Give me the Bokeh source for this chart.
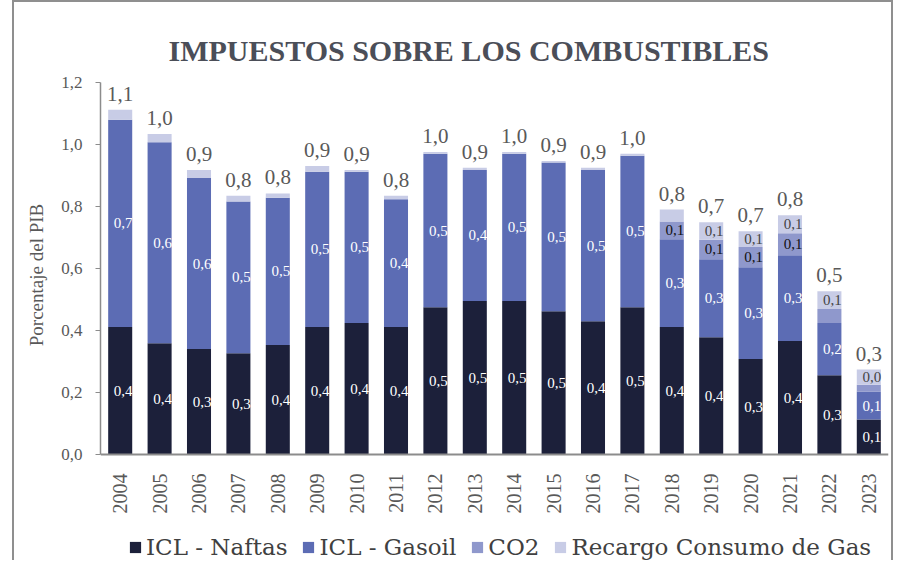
import math
from bokeh.plotting import figure
from bokeh.models import (ColumnDataSource, FactorRange, Range1d, FixedTicker,
                          LabelSet, Legend, LegendItem)
from bokeh.embed import file_html
from bokeh.resources import INLINE

# ---------------- data ----------------
years = ["2004", "2005", "2006", "2007", "2008", "2009", "2010", "2011", "2012", "2013",
         "2014", "2015", "2016", "2017", "2018", "2019", "2020", "2021", "2022", "2023"]
naftas = [0.411, 0.359, 0.340, 0.327, 0.353, 0.411, 0.424, 0.411, 0.475, 0.495,
          0.495, 0.462, 0.430, 0.475, 0.411, 0.378, 0.308, 0.366, 0.256, 0.113]
gasoil = [0.669, 0.648, 0.552, 0.489, 0.475, 0.501, 0.488, 0.412, 0.495, 0.423,
          0.475, 0.480, 0.488, 0.489, 0.283, 0.252, 0.296, 0.277, 0.168, 0.090]
co2 = [0.0, 0.0, 0.0, 0.0, 0.0, 0.0, 0.0, 0.0, 0.0, 0.0,
       0.0, 0.0, 0.0, 0.0, 0.058, 0.063, 0.065, 0.071, 0.045, 0.022]
recargo = [0.032, 0.027, 0.026, 0.019, 0.014, 0.019, 0.006, 0.012, 0.006, 0.007,
           0.006, 0.005, 0.007, 0.006, 0.038, 0.056, 0.051, 0.058, 0.058, 0.049]
show_naftas = [True] * 20
show_gasoil = [True] * 20
show_co2 = [False] * 14 + [True, True, True, True, False, False]
show_recargo = [False] * 15 + [True] * 5

series_keys = ["naftas", "gasoil", "co2", "recargo"]
series_names = ["ICL - Naftas", "ICL - Gasoil", "CO2", "Recargo Consumo de Gas"]
y_ticks = [0.0, 0.2, 0.4, 0.6, 0.8, 1.0, 1.2]
title_text = "IMPUESTOS SOBRE LOS COMBUSTIBLES"
y_label = "Porcentaje del PIB"

# ---------------- style / layout ----------------
FONT = "Liberation Serif"
LEGEND_FONT = "DejaVu Serif"
colors = ["#1c203a", "#5c6cb4", "#8f98cc", "#c8cce6"]
label_colors = ["#ffffff", "#ffffff", "#111111", "#444444"]
GRAY_TEXT = "#595959"
AXIS_GRAY = "#8c8c8c"

HEIGHT = 560
TOP = 80                    # space above the plotting frame (title)
AXIS_PX = 372               # pixels from value 0 to value 1.2
Y_MAX = 1.2
frame_h = HEIGHT - TOP      # frame reaches the bottom; x axis is pinned at y=0
y_min = Y_MAX - Y_MAX * frame_h / AXIS_PX
YLABEL_PAD = "\u00a0" * 20  # lifts the axis title towards the middle of the 0-1.2 scale


def fmt(v):
    return ("%.1f" % v).replace(".", ",")


values = {"naftas": naftas, "gasoil": gasoil, "co2": co2, "recargo": recargo}
shows = {"naftas": show_naftas, "gasoil": show_gasoil, "co2": show_co2, "recargo": show_recargo}

src = ColumnDataSource(dict(years=years, **values))

p = figure(x_range=FactorRange(*years, range_padding=0), y_range=Range1d(y_min, Y_MAX),
           width=881, height=HEIGHT, output_backend="svg", toolbar_location=None,
           min_border_left=86, min_border_right=7, min_border_top=TOP, min_border_bottom=0)
p.styles = {"border-left": "2px solid #8f8f8f", "border-top": "2px solid #8f8f8f",
            "border-right": "2px solid #8f8f8f", "margin-left": "12px"}
p.outline_line_color = None
p.xgrid.grid_line_color = None
p.ygrid.grid_line_color = None

renderers = p.vbar_stack(series_keys, x="years", width=0.61, color=colors,
                         line_color=None, source=src)

# segment labels
bottom = [0.0] * len(years)
for k, key in enumerate(series_keys):
    xs, ys, ts = [], [], []
    for j, y in enumerate(years):
        v = values[key][j]
        if shows[key][j]:
            xs.append(y)
            ys.append(bottom[j] + v / 2)
            ts.append(fmt(v))
        bottom[j] += v
    ls = LabelSet(x="x", y="y", text="t", source=ColumnDataSource(dict(x=xs, y=ys, t=ts)),
                  text_align="center", text_baseline="middle", x_offset=3,
                  text_color=label_colors[k], text_font_size="15px", text_font=FONT)
    p.add_layout(ls)

# totals
totals = [naftas[j] + gasoil[j] + co2[j] + recargo[j] for j in range(len(years))]
tl = LabelSet(x="x", y="y", text="t",
              source=ColumnDataSource(dict(x=years, y=totals, t=[fmt(t) for t in totals])),
              text_align="center", text_baseline="bottom", y_offset=9,
              text_color=GRAY_TEXT, text_font_size="21px", text_font=FONT)
p.add_layout(tl)

# title
p.title.text = title_text
p.title.align = "left"
p.title.offset = 68
p.title.standoff = 32
p.title.text_font = FONT
p.title.text_font_size = "30px"
p.title.text_font_style = "bold"
p.title.text_color = "#4b4e58"

# y axis
p.yaxis.ticker = FixedTicker(ticks=y_ticks)
p.yaxis.bounds = (0, Y_MAX)
p.yaxis.major_label_overrides = {t: fmt(t) for t in y_ticks}
p.yaxis.axis_label = YLABEL_PAD + y_label
p.yaxis.axis_label_text_font = FONT
p.yaxis.axis_label_text_font_size = "19px"
p.yaxis.axis_label_text_font_style = "normal"
p.yaxis.axis_label_text_color = GRAY_TEXT
p.yaxis.axis_label_standoff = 11
p.yaxis.major_label_text_font = FONT
p.yaxis.major_label_text_font_size = "17px"
p.yaxis.major_label_text_color = GRAY_TEXT
p.yaxis.major_label_standoff = 13
p.yaxis.major_tick_out = 5
p.yaxis.major_tick_in = 0
p.yaxis.minor_tick_line_color = None
p.yaxis.axis_line_color = AXIS_GRAY
p.yaxis.axis_line_width = 1.5
p.yaxis.major_tick_line_color = AXIS_GRAY

# x axis (pinned at value 0 inside the extended frame)
p.xaxis.fixed_location = 0
p.xaxis.major_label_orientation = math.pi / 2
p.xaxis.major_label_text_font = FONT
p.xaxis.major_label_text_font_size = "20px"
p.xaxis.major_label_text_color = GRAY_TEXT
p.xaxis.major_label_standoff = 13
p.xaxis.major_tick_line_color = None
p.xaxis.axis_line_color = AXIS_GRAY
p.xaxis.axis_line_width = 2

# legend (inside the frame, under the year labels)
legend = Legend(items=[LegendItem(label=n, renderers=[r]) for n, r in zip(series_names, renderers)],
                orientation="horizontal", location=(28, 2),
                label_text_font=LEGEND_FONT, label_text_font_size="23px", label_text_color="#404040",
                glyph_width=14, glyph_height=14, label_standoff=4, spacing=14,
                padding=0, margin=0, border_line_color=None, background_fill_alpha=0)
p.add_layout(legend, "center")

open("out.html", "w").write(file_html(p, INLINE))
